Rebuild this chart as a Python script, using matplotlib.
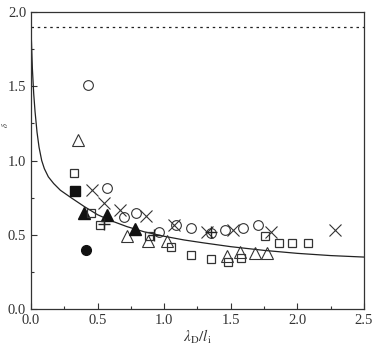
import numpy as np
import matplotlib.pyplot as plt

plt.rcParams['font.family'] = 'Liberation Serif'
plt.rcParams['mathtext.fontset'] = 'stix'

# theory curve
curve_x = [0, 0.005, 0.01, 0.02, 0.03, 0.045, 0.06, 0.08, 0.1, 0.13, 0.17,
           0.22, 0.3, 0.4, 0.5, 0.6, 0.72, 0.85, 1.0, 1.15, 1.3, 1.5, 1.75, 2.0, 2.25, 2.5]
curve_y = [1.88, 1.75, 1.62, 1.45, 1.33, 1.19, 1.09, 1.00, 0.945, 0.89, 0.845,
           0.80, 0.75, 0.69, 0.635, 0.595, 0.555, 0.52, 0.49, 0.465, 0.445, 0.42, 0.395, 0.375, 0.36, 0.35]
limit_y = 1.9

# open circles
oc_x = [0.425, 0.568, 0.70, 0.79, 0.96, 1.09, 1.205, 1.35, 1.46, 1.59, 1.705]
oc_y = [1.51, 0.818, 0.617, 0.65, 0.518, 0.567, 0.549, 0.511, 0.529, 0.549, 0.565]
# filled circle
fc_x = [0.41]
fc_y = [0.40]
# open triangles
ot_x = [0.35, 0.72, 0.88, 1.02, 1.47, 1.57, 1.68, 1.77]
ot_y = [1.14, 0.495, 0.455, 0.455, 0.354, 0.381, 0.377, 0.377]
# filled triangles
ft_x = [0.40, 0.57, 0.78]
ft_y = [0.646, 0.635, 0.538]
# open squares
os_x = [0.32, 0.45, 0.52, 0.885, 1.05, 1.20, 1.355, 1.48, 1.58, 1.76, 1.86, 1.96, 2.08]
os_y = [0.917, 0.646, 0.563, 0.489, 0.417, 0.365, 0.336, 0.316, 0.343, 0.493, 0.448, 0.448, 0.448]
# filled square
fs_x = [0.333]
fs_y = [0.796]
# crosses
cx_x = [0.455, 0.55, 0.67, 0.86, 1.07, 1.32, 1.52, 1.805, 2.285]
cx_y = [0.803, 0.717, 0.668, 0.628, 0.567, 0.518, 0.529, 0.516, 0.534]
# plus
pl_x = [0.55, 0.925, 1.35]
pl_y = [0.572, 0.496, 0.522]

fig = plt.figure(figsize=(3.74, 3.52), dpi=100)
ax = fig.add_axes([0.083, 0.122, 0.890, 0.844])

ax.plot(curve_x, curve_y, color="#222222", linewidth=0.9)
ax.plot([0, 2.5], [limit_y, limit_y], color="#222222", linewidth=0.9, linestyle=(0, (2, 3)))

ax.plot(oc_x, oc_y, "o", ms=7, mfc="none", mec="#333333", mew=0.8, ls="none")
ax.plot(fc_x, fc_y, "o", ms=7, color="#111111", ls="none")
ax.plot(ot_x, ot_y, "^", ms=8, mfc="none", mec="#333333", mew=0.8, ls="none")
ax.plot(ft_x, ft_y, "^", ms=8, color="#111111", ls="none")
ax.plot(os_x, os_y, "s", ms=6, mfc="none", mec="#333333", mew=0.9, ls="none")
ax.plot(fs_x, fs_y, "s", ms=6.5, color="#111111", ls="none")
ax.plot(cx_x, cx_y, "x", ms=8, color="#333333", mew=0.8, ls="none")
ax.plot(pl_x, pl_y, "+", ms=9, color="#222222", mew=1.0, ls="none")

ax.set_xlim(0, 2.5)
ax.set_ylim(0, 2.0)
ax.set_xticks(np.arange(0, 2.51, 0.5))
ax.set_yticks(np.arange(0, 2.01, 0.5))
ax.set_xticks(np.arange(0, 2.51, 0.25), minor=True)
ax.set_yticks(np.arange(0, 2.01, 0.25), minor=True)
ax.xaxis.set_major_formatter(plt.FormatStrFormatter('%.1f'))
ax.yaxis.set_major_formatter(plt.FormatStrFormatter('%.1f'))
ax.tick_params(which="both", direction="in", top=False, right=False,
               labelsize=10.5, colors="#333333", width=0.8)
ax.tick_params(which="major", length=4)
ax.tick_params(which="minor", length=2.5)
for s in ax.spines.values():
    s.set_linewidth(0.9)
    s.set_color("#333333")

ax.set_xlabel(r"$\lambda_{\mathrm{D}}/l_{\mathrm{i}}$", fontsize=11, color="#333333", labelpad=1)
ax.set_ylabel(r"$\delta$", fontsize=6, color="#333333")
ax.yaxis.set_label_coords(-0.064, 0.62)

fig.savefig("out.png", dpi=100)
